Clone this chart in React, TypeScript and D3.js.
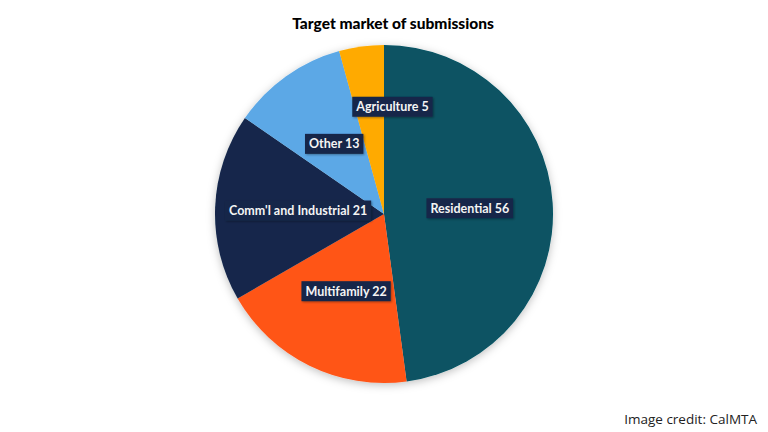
import React, { useEffect, useRef } from "react";
import * as d3 from "d3";

const categories = ["Residential", "Multifamily", "Comm'l and Industrial", "Other", "Agriculture"];
const values = [56, 22, 21, 13, 5];
const colors = ["#075363", "#FF5418", "#14284B", "#5BA8E6", "#FFAA00"];
const title = "Target market of submissions";
const credit = "Image credit: CalMTA";

const W = 768;
const H = 432;
const cx = 384;
const cy = 214;
const R = 169;
const labelR = 86;
// manual nudges for crowded labels (px)
const labelNudge: Record<string, [number, number]> = { Agriculture: [20, -22] };

export default function App() {
  const ref = useRef<SVGSVGElement>(null);
  useEffect(() => {
    const svg = d3.select(ref.current);
    svg.selectAll("*").remove();

    const defs = svg.append("defs");
    const f = defs.append("filter").attr("id", "shadow").attr("x", "-20%").attr("y", "-20%").attr("width", "140%").attr("height", "140%");
    f.append("feDropShadow").attr("dx", 0).attr("dy", 2).attr("stdDeviation", 4).attr("flood-color", "#000").attr("flood-opacity", 0.25);
    const f2 = defs.append("filter").attr("id", "lshadow").attr("x", "-20%").attr("y", "-30%").attr("width", "140%").attr("height", "160%");
    f2.append("feDropShadow").attr("dx", 1).attr("dy", 1).attr("stdDeviation", 1).attr("flood-color", "#000").attr("flood-opacity", 0.35);

    svg.append("rect").attr("width", W).attr("height", H).attr("fill", "#fff");

    svg.append("text")
      .attr("x", 393).attr("y", 29)
      .attr("text-anchor", "middle")
      .attr("font-family", "Lato, 'Open Sans', sans-serif")
      .attr("font-weight", 900)
      .attr("font-size", 15.5)
      .attr("fill", "#000")
      .text(title);

    const data = categories.map((c, i) => ({ name: c, value: values[i], color: colors[i] }));
    const pie = d3.pie<any>().value((d) => d.value).sort(null);
    const arcs = pie(data);
    const arc = d3.arc<any>().innerRadius(0).outerRadius(R);
    const labelArc = d3.arc<any>().innerRadius(labelR).outerRadius(labelR);

    const g = svg.append("g").attr("transform", `translate(${cx},${cy})`);
    g.append("g").attr("filter", "url(#shadow)")
      .selectAll("path").data(arcs).enter().append("path")
      .attr("d", arc as any)
      .attr("fill", (d: any) => d.data.color);

    const lg = g.append("g");
    arcs.forEach((a: any) => {
      const [x0, y0] = labelArc.centroid(a);
      const n = labelNudge[a.data.name] || [0, 0];
      const x = x0 + n[0];
      const y = y0 + n[1];
      const grp = lg.append("g").attr("transform", `translate(${x},${y})`);
      const rect = grp.append("rect").attr("fill", "#16284A").attr("filter", "url(#lshadow)");
      const t = grp.append("text")
        .attr("text-anchor", "middle")
        .attr("dy", "0.36em")
        .attr("font-family", "Lato, 'Open Sans', sans-serif")
        .attr("font-weight", 700)
        .attr("font-size", 12.5)
        .attr("fill", "#f4f4f4")
        .text(`${a.data.name} ${a.data.value}`);
      const w = (t.node() as SVGTextElement).getComputedTextLength();
      rect.attr("x", -w / 2 - 4).attr("y", -10).attr("width", w + 8).attr("height", 20);
    });

    svg.append("text")
      .attr("x", 757).attr("y", 424)
      .attr("text-anchor", "end")
      .attr("font-family", "'Open Sans', Lato, sans-serif")
      .attr("font-size", 13.5)
      .attr("fill", "#222")
      .text(credit);
  }, []);

  return <svg ref={ref} width={W} height={H} style={{ display: "block", position: "absolute", left: 0, top: 0 }} />;
}
